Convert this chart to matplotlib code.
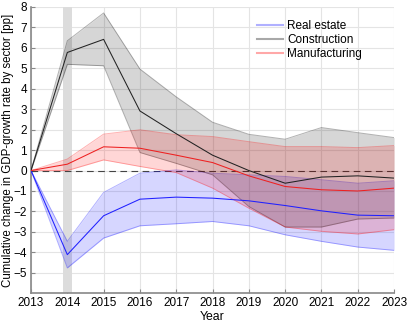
import matplotlib
matplotlib.use('Agg')
import matplotlib.pyplot as plt

plt.rcParams['font.family'] = ['Liberation Sans', 'DejaVu Sans']

# values
years = [2013, 2014, 2015, 2016, 2017, 2018, 2019, 2020, 2021, 2022, 2023]

real_estate = [0, -4.11, -2.21, -1.40, -1.30, -1.35, -1.48, -1.71, -1.97, -2.18, -2.21]
real_estate_hi = [0, -3.46, -1.07, -0.13, 0.03, -0.13, -0.21, -0.29, -0.45, -0.62, -0.50]
real_estate_lo = [0, -4.76, -3.30, -2.70, -2.60, -2.49, -2.70, -3.14, -3.46, -3.74, -3.90]

construction = [0, 5.77, 6.41, 2.91, 1.80, 0.75, 0.0, -0.62, -0.32, -0.26, -0.37]
construction_hi = [0, 6.34, 7.70, 4.96, 3.60, 2.36, 1.77, 1.53, 2.10, 1.85, 1.61]
construction_lo = [0, 5.19, 5.12, 0.88, 0.35, -0.21, -1.76, -2.76, -2.76, -2.37, -2.32]

manufacturing = [0, 0.31, 1.16, 1.09, 0.75, 0.39, -0.26, -0.78, -0.94, -1.00, -0.86]
manufacturing_hi = [0, 0.56, 1.78, 1.99, 1.75, 1.66, 1.41, 1.17, 1.17, 1.12, 1.22]
manufacturing_lo = [0, 0.0, 0.52, 0.20, -0.10, -0.86, -1.84, -2.76, -2.97, -3.10, -2.89]

fig = plt.figure(figsize=(4.07, 3.25), dpi=100)
ax = fig.add_axes([0.0762, 0.0975, 0.892, 0.8815])

# shaded year
ax.axvspan(2013.89, 2014.12, color='#dcdcdc', zorder=1, lw=0)

ax.axhline(0, color='#444444', ls=(0, (6, 4)), lw=0.8, zorder=2)

series = [
    ('Real estate', real_estate, real_estate_lo, real_estate_hi, '#2020ff', '#0000ff', '#b0b0ff'),
    ('Construction', construction, construction_lo, construction_hi, '#222222', '#000000', '#a8a8a8'),
    ('Manufacturing', manufacturing, manufacturing_lo, manufacturing_hi, '#ee2020', '#ff0000', '#ffa8a8'),
]
for name, mid, lo, hi, lc, fc, legc in series:
    ax.fill_between(years, lo, hi, color=fc, alpha=0.16, lw=0, zorder=3)
    ax.plot(years, lo, color=fc, alpha=0.3, lw=0.7, zorder=3)
    ax.plot(years, hi, color=fc, alpha=0.3, lw=0.7, zorder=3)
    ax.plot(years, mid, color=lc, lw=0.75, zorder=4)
    ax.plot([], [], color=legc, lw=1.5, label=name)

ax.set_xlim(2013, 2023)
ax.set_ylim(-6, 8)
ax.set_xticks(years)
ax.set_yticks(range(-5, 9))
ax.grid(True, color='#e4e4e4', lw=0.8)
ax.set_axisbelow(True)
for s in ['top', 'right']:
    ax.spines[s].set_visible(False)
for s in ['left', 'bottom']:
    ax.spines[s].set_color('#888888')
    ax.spines[s].set_linewidth(1.2)
ax.tick_params(direction='in', length=3, color='#888888', labelsize=8.5, pad=3)
ax.set_xlabel('Year', fontsize=8.8, labelpad=1)
ax.set_ylabel('Cumulative change in GDP-growth rate by sector [pp]', fontsize=8.3)
ax.yaxis.set_label_coords(-0.048, 0.5)

ax.legend(loc='upper right', bbox_to_anchor=(0.94, 0.99), frameon=False, fontsize=8.5,
          handlelength=2.2, handletextpad=0.3, labelspacing=0.15)

fig.savefig('out.png', dpi=100)
